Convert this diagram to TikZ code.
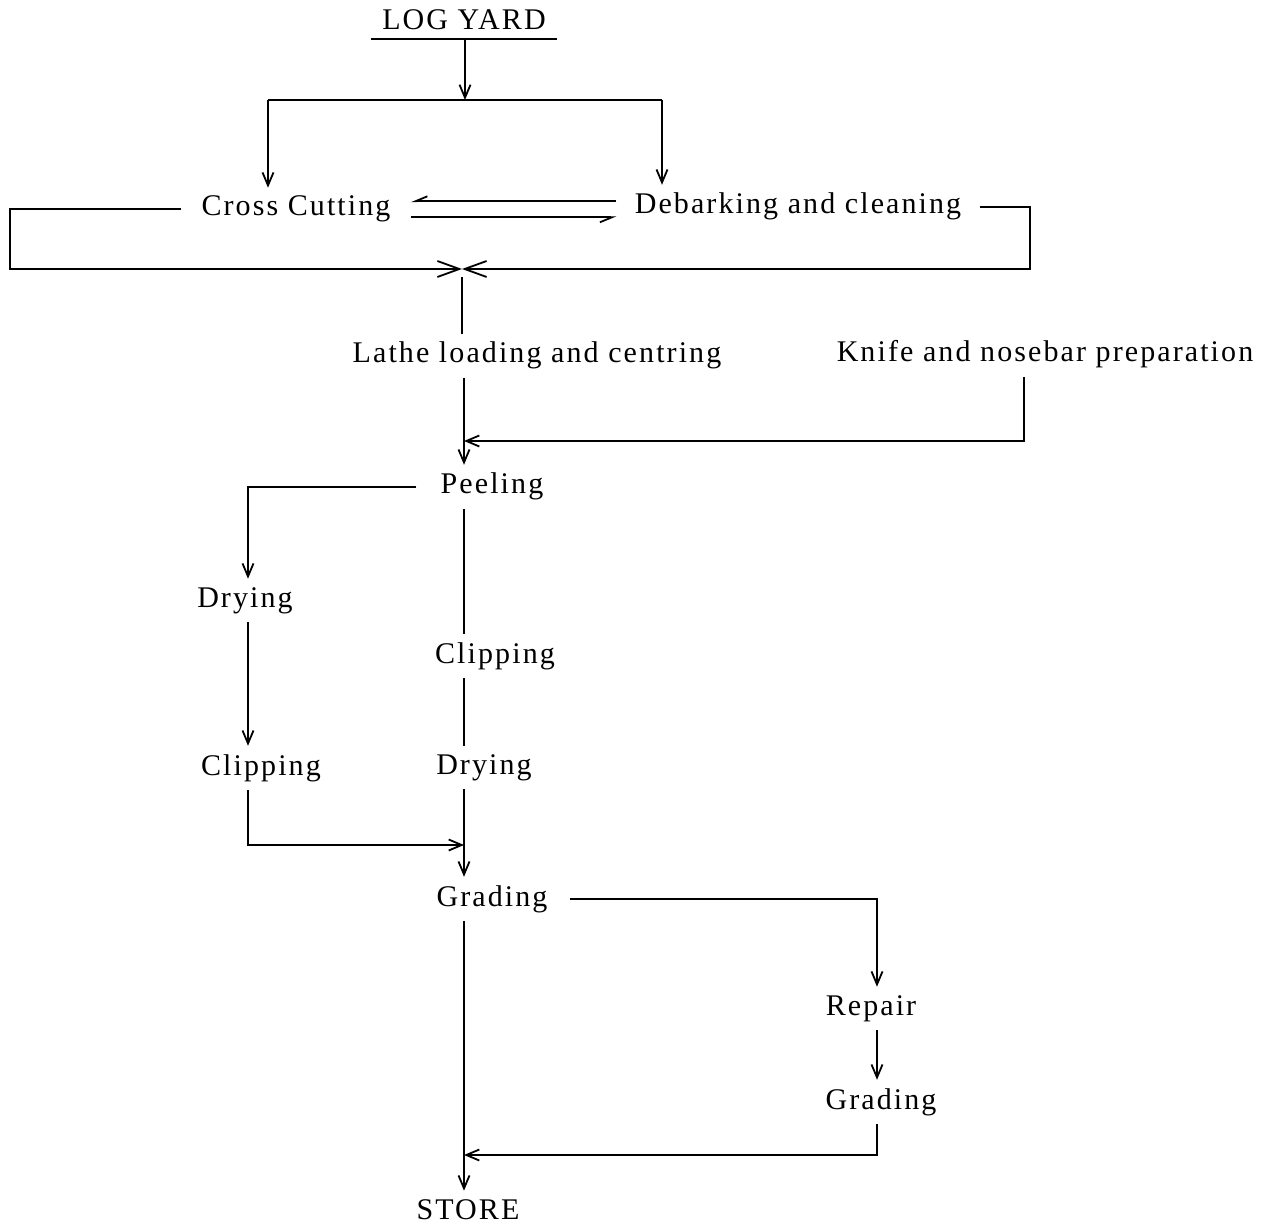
\documentclass[tikz,border=0pt]{standalone}
\usepackage{fontspec}
\setmainfont{Liberation Serif}[LetterSpace=7]
\usetikzlibrary{arrows.meta}
\begin{document}
\begin{tikzpicture}[x=0.5pt,y=-0.5pt,
  lbl/.style={anchor=base,inner xsep=5pt,inner ysep=4pt,font=\fontsize{15pt}{18pt}\selectfont},
  conn/.style={line width=0.9pt},
  arr/.style={conn,-{Straight Barb[length=6.5pt,width=5.5pt]}},
  harp/.style={conn,-{Straight Barb[length=6pt,width=5pt,right]}},
  xarr/.style={conn,-{Straight Barb[length=11pt,width=8pt]}}]
\useasboundingbox (0,0) rectangle (1278,1224);
% nodes
\node[lbl,inner xsep=5.5pt] (logyard) at (464,30) {LOG YARD};
\node[lbl,inner xsep=10pt] (cc) at (296,216) {Cross Cutting};
\node[lbl,inner xsep=9pt] (deb) at (798,214) {Debarking and cleaning};
\node[lbl] (lathe) at (537,363) {Lathe loading and centring};
\node[lbl] (knife) at (1045,362) {Knife and nosebar preparation};
\node[lbl,inner xsep=12pt] (peel) at (492,494) {Peeling};
\node[lbl] (dryL) at (245,607) {Drying};
\node[lbl] (clipR) at (495,663) {Clipping};
\node[lbl] (clipL) at (261,775) {Clipping};
\node[lbl] (dryR) at (484,774) {Drying};
\node[lbl,inner xsep=11pt] (grade) at (492,906) {Grading};
\node[lbl] (repair) at (871,1015) {Repair};
\node[lbl] (grade2) at (881,1109) {Grading};
\node[lbl] (store) at (468,1219) {STORE};
% coordinates
\coordinate (sp) at (464,0);
\coordinate (j1) at (465,100);
\coordinate (sL) at (268,100);
\coordinate (sR) at (662,100);
\coordinate (cx) at (462,269);
\coordinate (lcor) at (10,269);
\coordinate (rcor) at (1030,269);
\coordinate (kx) at (1024,441);
\coordinate (colL) at (248,0);
\coordinate (j2) at (464,845);
\coordinate (colR) at (877,898);
\coordinate (j3) at (464,1155);
% underline
\draw[conn] (logyard.south west) -- (logyard.south east);
% connectors
\draw[arr] (j1 |- logyard.south) -- (j1);
\draw[conn] (sL) -- (sR);
\draw[arr] (sL) -- (sL |- cc.north);
\draw[arr] (sR) -- (sR |- deb.north);
\draw[harp] ([yshift=4pt]cc.east -| deb.west) -- ([yshift=4pt]cc.east);
\draw[harp] ([yshift=-4pt]cc.east) -- ([yshift=-4pt]cc.east -| deb.west);
\draw[xarr] (cc.west) -| (lcor) -- (cx);
\draw[xarr] (deb.east) -| (rcor) -- (cx);
\draw[conn] ([yshift=-4pt]cx) -- (cx |- lathe.north);
\draw[arr] (sp |- lathe.south) -- (sp |- peel.north);
\draw[arr] (kx |- knife.south) -- (kx) -- (kx -| sp);
\draw[arr] (peel.west) -| (colL |- dryL.north);
\draw[arr] (colL |- dryL.south) -- (colL |- clipL.north);
\draw[arr] (colL |- clipL.south) |- (j2);
\draw[conn] (sp |- peel.south) -- (sp |- clipR.north);
\draw[conn] (sp |- clipR.south) -- (sp |- dryR.north);
\draw[arr] (sp |- dryR.south) -- (sp |- grade.north);
\draw[arr] (grade.east) -| (colR |- repair.north);
\draw[arr] (colR |- repair.south) -- (colR |- grade2.north);
\draw[arr] (colR |- grade2.south) |- (j3);
\draw[arr] (sp |- grade.south) -- (sp |- store.north);
\end{tikzpicture}
\end{document}
